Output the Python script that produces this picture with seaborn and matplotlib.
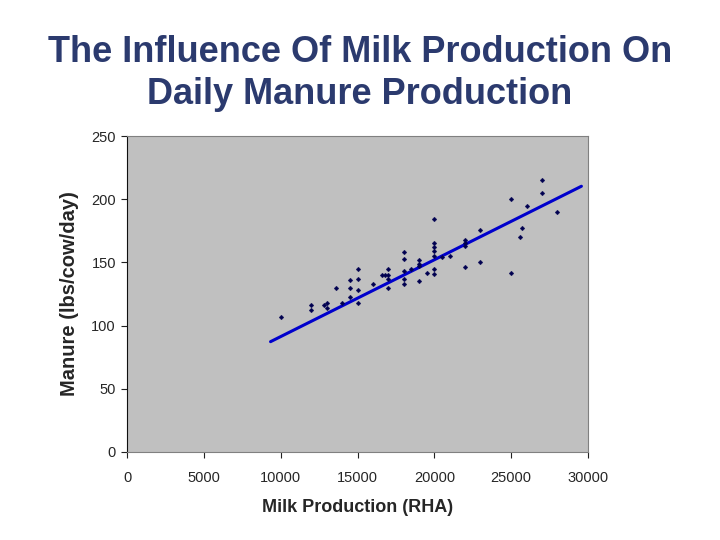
import matplotlib
matplotlib.use("Agg")
import matplotlib.pyplot as plt
import seaborn as sns
import pandas as pd

# Data
milk = [10000, 12000, 12000, 12800, 13000, 13000, 13600, 14000, 14500, 14500, 14500,
        15000, 15000, 15000, 15000, 16000, 16600, 16800, 17000, 17000, 17000, 17000,
        18000, 18000, 18000, 18000, 18000, 18500, 19000, 19000, 19000, 19000, 19500,
        20000, 20000, 20000, 20000, 20000, 20000, 20000, 20500, 21000,
        22000, 22000, 22000, 22000, 23000, 23000, 25000, 25000, 25700, 25600,
        26000, 27000, 27000, 28000]
manure = [107, 116, 112, 116, 118, 114, 130, 118, 136, 130, 123,
          145, 137, 128, 118, 133, 140, 140, 145, 140, 137, 130,
          158, 153, 143, 137, 133, 145, 152, 149, 147, 135, 142,
          184, 165, 162, 159, 155, 145, 141, 154, 155,
          168, 165, 163, 146, 176, 150, 200, 142, 177, 170,
          195, 215, 205, 190]
trend_x = [9340, 29570]
trend_y = [87.3, 210.3]

x_ticks = [0, 5000, 10000, 15000, 20000, 25000, 30000]
y_ticks = [0, 50, 100, 150, 200, 250]

sns.set_style("white")
plt.rcParams['font.family'] = ['Liberation Sans', 'DejaVu Sans']

df = pd.DataFrame({"milk": milk, "manure": manure})
tdf = pd.DataFrame({"x": trend_x, "y": trend_y})

fig = plt.figure(figsize=(7.2, 5.4), dpi=100)
ax = fig.add_axes([0.1764, 0.163, 0.6403, 0.585])
ax.set_facecolor("#C0C0C0")

sns.lineplot(data=tdf, x="x", y="y", ax=ax, color="#0000CC", linewidth=2.2, zorder=2)
sns.scatterplot(data=df, x="milk", y="manure", ax=ax, marker="D", s=6,
                color="#000050", edgecolor="#000050", linewidth=0.2, zorder=3)

ax.set_xlim(0, 30000)
ax.set_ylim(0, 250)
ax.set_xticks(x_ticks)
ax.set_yticks(y_ticks)
ax.set_xticklabels([str(v) for v in x_ticks], fontsize=10.5)
ax.set_yticklabels([str(v) for v in y_ticks], fontsize=10.5)
ax.tick_params(axis="x", direction="out", length=4, width=0.8, color="#202020",
               bottom=True, pad=10)
ax.tick_params(axis="y", direction="out", length=4, width=0.8, color="#202020",
               left=True, pad=4)
for s in ax.spines.values():
    s.set_color("#808080")
    s.set_linewidth(0.8)
ax.spines["left"].set_color("#101010")

ax.set_xlabel("Milk Production (RHA)", fontsize=13, fontweight="bold", labelpad=10)
ax.set_ylabel("Manure (lbs/cow/day)", fontsize=14.5, fontweight="bold", labelpad=9)

fig.text(0.5, 0.863, "The Influence Of Milk Production On\nDaily Manure Production",
         ha="center", va="center", fontsize=26, fontweight="bold", color="#2B3A6E",
         linespacing=1.26)

fig.savefig("out.png", dpi=100)
